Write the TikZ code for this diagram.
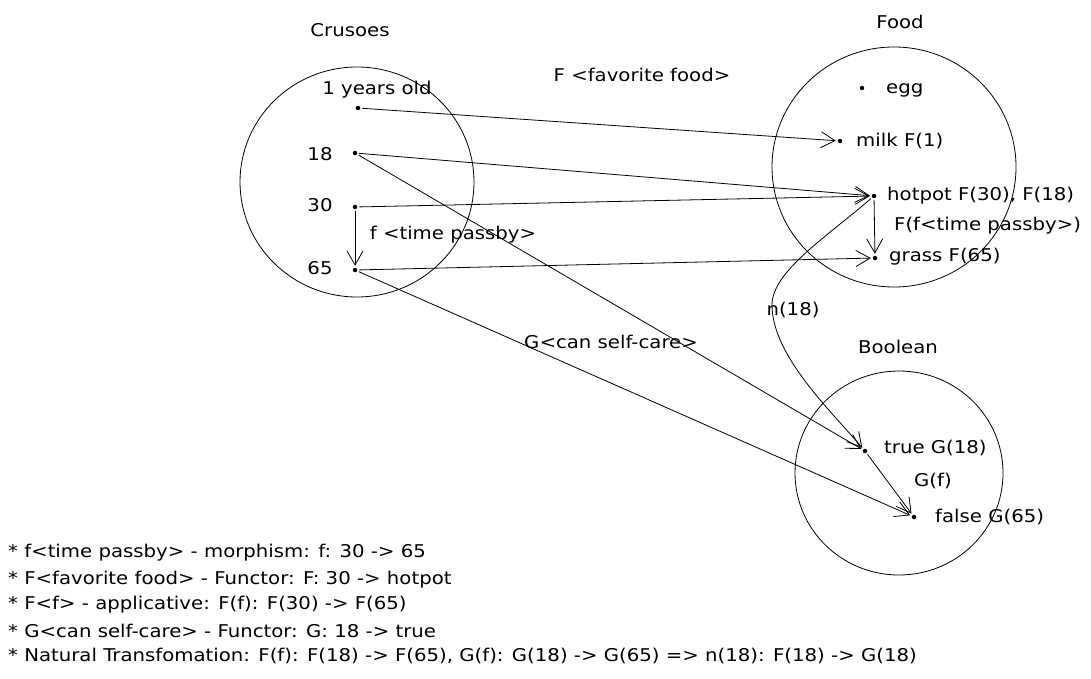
\documentclass[tikz,border=0pt]{standalone}
\usepackage{fontspec}
\setmainfont{DejaVu Sans}[FakeStretch=1.12]
\usetikzlibrary{arrows.meta}
\begin{document}
\begin{tikzpicture}[x=1pt,y=-1pt,
  every node/.style={font=\fontsize{17.6}{20}\selectfont, inner sep=1pt},
  dot/.style={circle, fill=black, inner sep=0pt, minimum size=4.5pt, outer sep=2pt},
  lab/.style={anchor=west},
  set/.style={line width=0.8pt},
  arr/.style={line width=0.8pt, -{Straight Barb[length=14pt,width=16pt,line width=0.8pt]}}]
\useasboundingbox (0,0) rectangle (1091,679);
% sets
\draw[set] (357,182) ellipse [x radius=117, y radius=115];
\draw[set] (894,167) ellipse [x radius=122, y radius=120];
\draw[set] (899,473) ellipse [x radius=104, y radius=102];
% titles
\node (tC) at (350,30) {Crusoes};
\node (tF) at (900,22) {Food};
\node (tB) at (898,347) {Boolean};
% Crusoes
\node[dot] (c1) at (358,108) {};
\node (l1) at (377,90) {1 years old};
\node[dot] (c18) at (355,153) {};
\node (l18) at (320,154) {18};
\node[dot] (c30) at (355,207) {};
\node (l30) at (320,205) {30};
\node[dot] (c65) at (355,270) {};
\node (l65) at (320,268) {65};
% Food
\node[dot] (egg) at (862,88) {};
\node[lab] (legg) at (885,90) {egg};
\node[dot] (milk) at (840,141) {};
\node[lab] (lmilk) at (855,141) {milk F(1)};
\node[dot] (hot) at (874,196) {};
\node[lab] (lhot) at (886,196) {hotpot F(30), F(18)};
\node[lab] (lff) at (893,226) {F(f<time passby>)};
\node[dot] (grass) at (875,258) {};
\node[lab] (lgrass) at (888,257) {grass F(65)};
% Boolean
\node[dot] (tru) at (865,451) {};
\node[lab] (ltrue) at (883,448) {true G(18)};
\node (lgf) at (933,481) {G(f)};
\node[dot] (fal) at (914,517) {};
\node[lab] (lfalse) at (934,517) {false G(65)};
% labels
\node (lF) at (642,75) {F <favorite food>};
\node (lf) at (453,235) {f <time passby>};
\node (lG) at (611,342) {G<can self-care>};
\node (ln) at (793,310) {n(18)};
% arrows
\draw[arr] (c1) -- (milk);
\draw[arr] (c18) -- (hot);
\draw[arr] (c30) -- (hot);
\draw[arr] (c65) -- (grass);
\draw[arr] (c18) -- (tru);
\draw[arr] (c65) -- (fal);
\draw[arr] (c30) -- (c65);
\draw[arr] (hot) -- (grass);
\draw[arr] (tru) -- (fal);
\draw[arr] (hot) .. controls (825,238) and (772,272) .. (772,305)
  .. controls (772,355) and (830,410) .. (tru);
% notes
\begin{scope}[every node/.style={font=\fontsize{17.6}{20}\selectfont, anchor=west, inner sep=0pt}]
\node (n1) at (8,553) {* f<time passby> - morphism: f: 30 -> 65};
\node (n2) at (8,580) {* F<favorite food> - Functor: F: 30 -> hotpot};
\node (n3) at (8,605) {* F<f> - applicative: F(f): F(30) -> F(65)};
\node (n4) at (8,631) {* G<can self-care> - Functor: G: 18 -> true};
\node (n5) at (8,656) {* Natural Transfomation: F(f): F(18) -> F(65), G(f): G(18) -> G(65) => n(18): F(18) -> G(18)};
\end{scope}
\end{tikzpicture}
\end{document}
